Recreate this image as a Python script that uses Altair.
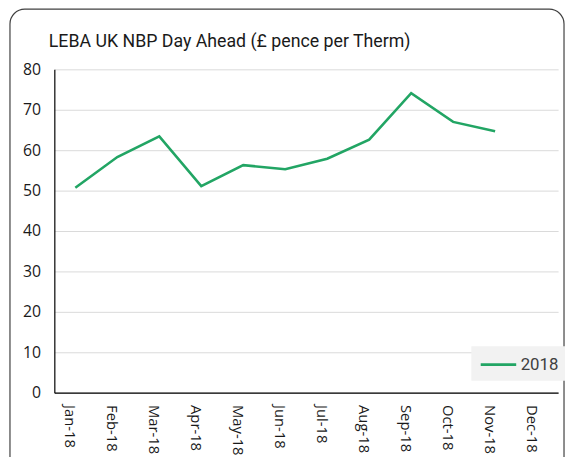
import altair as alt
import pandas as pd

months = ["Jan-18", "Feb-18", "Mar-18", "Apr-18", "May-18", "Jun-18",
          "Jul-18", "Aug-18", "Sep-18", "Oct-18", "Nov-18", "Dec-18"]
values = [50.7, 58.3, 63.4, 51.1, 56.3, 55.3, 57.9, 62.6, 74.1, 67.0, 64.7, None]
series = ["2018"] * len(months)
y_ticks = [0, 10, 20, 30, 40, 50, 60, 70, 80]

df = pd.DataFrame({"month": months, "value": values, "series": series})

line = alt.Chart(df).mark_line(strokeWidth=2.6).encode(
    x=alt.X("month:N", sort=months, scale=alt.Scale(domain=months, padding=0.5),
            axis=alt.Axis(title=None, labelAngle=90, labelAlign="left", labelBaseline="middle",
                          labelPadding=12, labelOffset=-6, ticks=False, domainColor="#000000",
                          domainWidth=1.2, labelFont="Open Sans", labelFontSize=15,
                          labelColor="#1a1a1a", grid=False)),
    y=alt.Y("value:Q", scale=alt.Scale(domain=[0, 80]),
            axis=alt.Axis(title=None, values=y_ticks, ticks=False, domainColor="#000000",
                          domainWidth=1.2, labelPadding=14, labelFont="Open Sans",
                          labelFontSize=16, labelColor="#1a1a1a", grid=True,
                          gridColor="#d9d9d9", gridWidth=1)),
    color=alt.Color("series:N", scale=alt.Scale(range=["#22a564"]),
                    legend=alt.Legend(title=None, orient="none", legendX=423, legendY=281,
                                      fillColor="#f2f2f2", padding=8,
                                      symbolType="M-1,0L3,0", symbolSize=324,
                                      symbolStrokeWidth=2.6, labelFont="Roboto",
                                      labelFontSize=17, labelColor="#404040",
                                      labelOffset=21)),
)

frame = alt.Chart(pd.DataFrame({"a": [0]})).mark_rect(
    filled=False, stroke="#404040", strokeWidth=1.2, cornerRadius=15
).encode(x=alt.value(-45), x2=alt.value(517), y=alt.value(-61), y2=alt.value(410))

chart = alt.layer(frame, line).properties(
    width=511, height=328,
    title=alt.TitleParams("LEBA UK NBP Day Ahead (£ pence per Therm)", anchor="start",
                          font="Roboto", fontSize=18, fontWeight="normal", color="#1a1a1a",
                          offset=14, dx=40, dy=57),
    autosize=alt.AutoSizeParams(type="none"),
    padding={"left": 47, "top": 59, "right": 7, "bottom": 62},
).configure_view(stroke=None)

chart.save("out.html", embed_options={"renderer": "svg", "actions": False})
